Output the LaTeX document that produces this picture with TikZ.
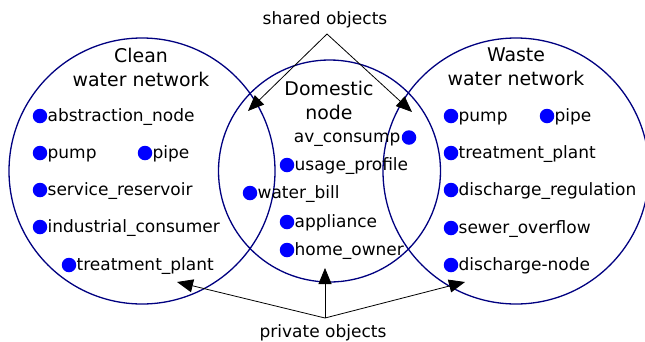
\documentclass[tikz,border=0pt]{standalone}
\usepackage{fontspec}
\setmainfont{DejaVu Sans}
\usetikzlibrary{arrows.meta}
\definecolor{navyline}{RGB}{0,0,128}
\begin{document}
\begin{tikzpicture}[x=1pt,y=-1pt,
  region/.style={draw=navyline, line width=1.3pt, circle, inner sep=0pt},
  dot/.style={circle, fill=blue, minimum size=14.5pt, inner sep=0pt},
  lbl/.style={font=\fontsize{17}{18}\selectfont, inner sep=0pt, anchor=base west},
  lbll/.style={font=\fontsize{17}{18}\selectfont, inner sep=0pt, anchor=base east},
  ttl/.style={font=\fontsize{18.9}{24}\selectfont, align=center, inner sep=0pt},
  captext/.style={font=\fontsize{17}{18}\selectfont, inner sep=0pt},
  arr/.style={-{Triangle[length=16pt,width=13pt]}, line width=0.8pt}]
\useasboundingbox (0,0) rectangle (645,341);
\clip (0,0) rectangle (645,341);
% regions
\node[region, minimum size=266pt] (clean) at (142,171) {};
\node[region, minimum size=222pt] (dom) at (329.5,171) {};
\node[region, minimum size=266pt] (waste) at (516,171) {};
% titles
\node[ttl] (tclean) at (141,67) {Clean\\water network};
\node[ttl] (tdom) at (329,100.5) {Domestic\\node};
\node[ttl] (twaste) at (516,67) {Waste\\water network};
% clean items
\node[dot] (c1) at (40,116) {};
\node[lbl] (c1l) at ([xshift=0pt,yshift=-5pt]c1.east) {abstraction\_node};
\node[dot] (c2) at (40,153) {};
\node[lbl] (c2l) at ([xshift=0pt,yshift=-5pt]c2.east) {pump};
\node[dot] (c3) at (145,153) {};
\node[lbl] (c3l) at ([xshift=0pt,yshift=-5pt]c3.east) {pipe};
\node[dot] (c4) at (40,190) {};
\node[lbl] (c4l) at ([xshift=0pt,yshift=-5pt]c4.east) {service\_reservoir};
\node[dot] (c5) at (40,227) {};
\node[lbl] (c5l) at ([xshift=0pt,yshift=-5pt]c5.east) {industrial\_consumer};
\node[dot] (c6) at (69,265) {};
\node[lbl] (c6l) at ([xshift=0pt,yshift=-5pt]c6.east) {treatment\_plant};
% domestic items
\node[dot] (d1) at (409,137.5) {};
\node[lbll] (d1l) at ([xshift=-1pt,yshift=-4.5pt]d1.west) {av\_consump};
\node[dot] (d2) at (287,165) {};
\node[lbl] (d2l) at ([xshift=0pt,yshift=-5pt]d2.east) {usage\_profile};
\node[dot] (d3) at (250,193) {};
\node[lbl] (d3l) at ([xshift=0pt,yshift=-5pt]d3.east) {water\_bill};
\node[dot] (d4) at (287,222) {};
\node[lbl] (d4l) at ([xshift=0pt,yshift=-5pt]d4.east) {appliance};
\node[dot] (d5) at (287,250) {};
\node[lbl] (d5l) at ([xshift=0pt,yshift=-5pt]d5.east) {home\_owner};
% waste items
\node[dot] (w1) at (451,116) {};
\node[lbl] (w1l) at ([xshift=0pt,yshift=-5pt]w1.east) {pump};
\node[dot] (w2) at (547,116) {};
\node[lbl] (w2l) at ([xshift=0pt,yshift=-5pt]w2.east) {pipe};
\node[dot] (w3) at (451,153) {};
\node[lbl] (w3l) at ([xshift=0pt,yshift=-5pt]w3.east) {treatment\_plant};
\node[dot] (w4) at (451,190) {};
\node[lbl] (w4l) at ([xshift=0pt,yshift=-5pt]w4.east) {discharge\_regulation};
\node[dot] (w5) at (451,228) {};
\node[lbl] (w5l) at ([xshift=0pt,yshift=-5pt]w5.east) {sewer\_overflow};
\node[dot] (w6) at (451,265) {};
\node[lbl] (w6l) at ([xshift=0pt,yshift=-5pt]w6.east) {discharge-node};
% shared objects
\node[captext] (shared) at (325,20) {shared objects};
\coordinate (sa) at (327,34);
\coordinate (st1) at (248,111);
\coordinate (st2) at (412,112);
\draw[arr] (sa) -- (st1);
\draw[arr] (sa) -- (st2);
% private objects
\node[captext] (private) at (323,333) {private objects};
\coordinate (pa) at (325,318);
\coordinate (pt1) at (177,282);
\coordinate (pt2) at (325,268);
\coordinate (pt3) at (465,282);
\draw[arr] (pa) -- (pt1);
\draw[arr] (pa) -- (pt2);
\draw[arr] (pa) -- (pt3);
\end{tikzpicture}
\end{document}
